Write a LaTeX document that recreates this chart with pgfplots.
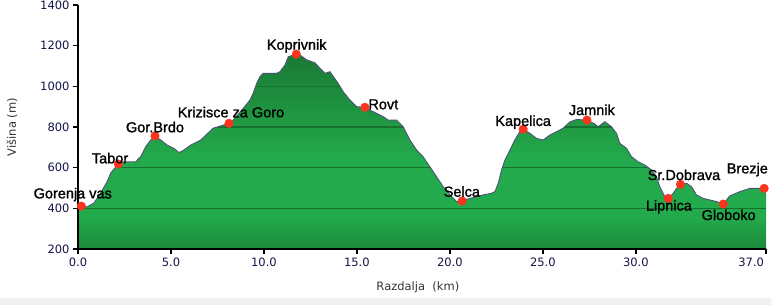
\documentclass[border=0pt]{standalone}
\usepackage{pgfplots}
\pgfplotsset{compat=1.18}
\usepackage{pgfplotstable}
\usepackage{fontspec}
\setmainfont{Liberation Sans}
\newfontfamily\dejavu{DejaVu Sans}
\newfontfamily\lblfont[FakeBold=1.3]{Liberation Sans}
\definecolor{gtop}{RGB}{26,122,52}
\definecolor{gmid}{RGB}{35,170,76}
\definecolor{gbot}{RGB}{28,136,58}
\definecolor{gline}{RGB}{22,112,46}
\definecolor{outl}{RGB}{72,82,112}
\definecolor{mk}{RGB}{250,52,30}
\definecolor{tickc}{RGB}{20,20,70}
\pgfdeclareverticalshading{terrain}{100bp}{color(0bp)=(gbot); color(25bp)=(gbot); color(33bp)=(gmid); color(48bp)=(gmid); color(75bp)=(gtop); color(100bp)=(gtop)}
\pgfplotsset{lbl/.style n args={4}{draw=none, mark=none, forget plot,
  nodes near coords={#1},
  every node near coord/.style={anchor=#2, xshift=#3pt, yshift=#4pt, inner sep=0pt, text=black, font=\lblfont\fontsize{14.5}{15}\selectfont}}}

\pgfplotstableread{
x y
0.00 402
0.18 411
0.48 407
0.86 426
1.22 475
1.56 530
1.76 574
2.17 618
2.47 629
3.10 629
3.37 654
3.64 703
3.91 736
4.14 756
4.45 736
4.80 711
5.16 695
5.43 674
5.70 687
6.06 711
6.60 736
7.27 794
8.12 818
8.35 834
8.89 892
9.25 933
9.42 966
9.61 1015
9.78 1047
9.96 1064
10.68 1064
10.86 1072
11.13 1105
11.31 1146
11.74 1158
11.94 1154
12.30 1130
12.74 1116
13.01 1089
13.28 1064
13.55 1072
13.71 1051
13.99 1015
14.26 974
14.62 933
14.98 900
15.43 897
15.88 875
16.41 851
16.68 834
17.13 834
17.49 801
17.85 736
18.21 687
18.56 654
18.92 605
19.28 556
19.64 506
20.00 466
20.36 433
20.66 436
21.08 449
21.79 466
22.24 474
22.42 482
22.60 523
22.78 589
22.96 638
23.23 687
23.49 736
23.76 777
23.94 789
24.30 769
24.66 744
25.02 736
25.38 761
25.74 777
26.09 794
26.45 825
26.81 837
27.37 834
27.80 815
27.97 801
28.33 826
28.69 801
28.96 769
29.14 720
29.50 695
29.77 654
30.12 629
30.48 613
30.84 589
31.11 556
31.29 506
31.56 457
31.74 449
32.01 474
32.19 498
32.40 518
32.73 523
33.00 506
33.26 466
33.62 449
33.98 441
34.34 433
34.70 421
35.05 461
35.59 482
36.13 498
36.67 498
36.90 498
37.00 500
}\profile

\pgfplotstableread{
x y
0.18 411
2.17 618
4.14 756
8.12 818
11.74 1158
15.43 897
20.66 436
23.94 789
27.37 834
31.74 449
32.40 518
34.70 421
36.90 498
}\places

\begin{document}
\begin{tikzpicture}[x=1pt,y=1pt]
\useasboundingbox (-78,-56) rectangle (693,249);
\fill[black!6] (-78,-56) rectangle (693,-49);
\begin{axis}[
  at={(0,0)}, anchor=south west,
  scale only axis,
  width=688pt, height=244pt,
  xmin=0, xmax=37, ymin=200, ymax=1400,
  axis lines*=left,
  axis line style={-, black, line width=1.6pt},
  axis on top,
  tick align=outside,
  major tick length=5pt,
  every tick/.style={black, line width=1.6pt},
  xtick={0,5,10,15,20,25,30,37},
  xticklabels={0.0,5.0,10.0,15.0,20.0,25.0,30.0,\makebox[0pt][r]{37.0\kern2pt}},
  ytick={200,400,600,800,1000,1200,1400},
  yticklabels={200,400,600,800,1000,1200,1400},
  /pgf/number format/assume math mode=true,
  ticklabel style={font=\dejavu\fontsize{11.5}{12}\selectfont, text=tickc},
  xlabel={Razdalja~~(km)},
  ylabel={Višina (m)},
  every axis x label/.style={at={(axis description cs:0.494,-0.156)}, anchor=center, font=\dejavu\fontsize{11.5}{12}\selectfont, text=black!80},
  every axis y label/.style={at={(axis description cs:-0.096,0.5)}, rotate=90, anchor=center, font=\dejavu\fontsize{11.5}{12}\selectfont, text=black!80},
  clip=false,
]
% shaded terrain
\addplot[draw=none, shade, shading=terrain] table[x=x,y=y] {\profile} -- (axis cs:37,200) -- (axis cs:0,200) -- cycle;
% darker level lines
\draw[gline, line width=1.3pt] (axis cs:0,400) -- (axis cs:37,400);
\draw[gline, line width=1.3pt] (axis cs:0,600) -- (axis cs:37,600);
\draw[gline, line width=1.3pt] (axis cs:0,800) -- (axis cs:37,800);
\draw[gline, line width=1.3pt] (axis cs:0,1000) -- (axis cs:37,1000);
% white sky above the profile hides the level lines there
\addplot[draw=none, fill=white] table[x=x,y=y] {\profile} -- (axis cs:37,1400) -- (axis cs:0,1400) -- cycle;
% profile outline
\addplot[draw=outl, line width=0.9pt, no marks] table[x=x,y=y] {\profile};
% places
\addplot[only marks, mark=*, mark size=4.3pt, color=mk] table[x=x,y=y] {\places};
\addplot[lbl={Gorenja vas}{base}{-8.6}{7.7}] coordinates {(0.18,411)};
\addplot[lbl={Tabor}{base}{-8.3}{0.7}] coordinates {(2.17,618)};
\addplot[lbl={Gor.Brdo}{base}{0}{3.7}] coordinates {(4.14,756)};
\addplot[lbl={Krizisce za Goro}{base}{2}{6}] coordinates {(8.12,818)};
\addplot[lbl={Koprivnik}{base}{0.4}{4.5}] coordinates {(11.74,1158)};
\addplot[lbl={Rovt}{base west}{3.3}{-2}] coordinates {(15.43,897)};
\addplot[lbl={Selca}{base}{-0.3}{4.3}] coordinates {(20.66,436)};
\addplot[lbl={Kapelica}{base}{0}{3.3}] coordinates {(23.94,789)};
\addplot[lbl={Jamnik}{base}{4.9}{5}] coordinates {(27.37,834)};
\addplot[lbl={Lipnica}{base}{0.7}{-12.2}] coordinates {(31.74,449)};
\addplot[lbl={Sr.Dobrava}{base}{3.5}{4.3}] coordinates {(32.40,518)};
\addplot[lbl={Globoko}{base}{5.4}{-16}] coordinates {(34.70,421)};
\addplot[lbl={Brezje}{base}{-16.8}{15}] coordinates {(36.90,498)};
\end{axis}
\end{tikzpicture}
\end{document}
